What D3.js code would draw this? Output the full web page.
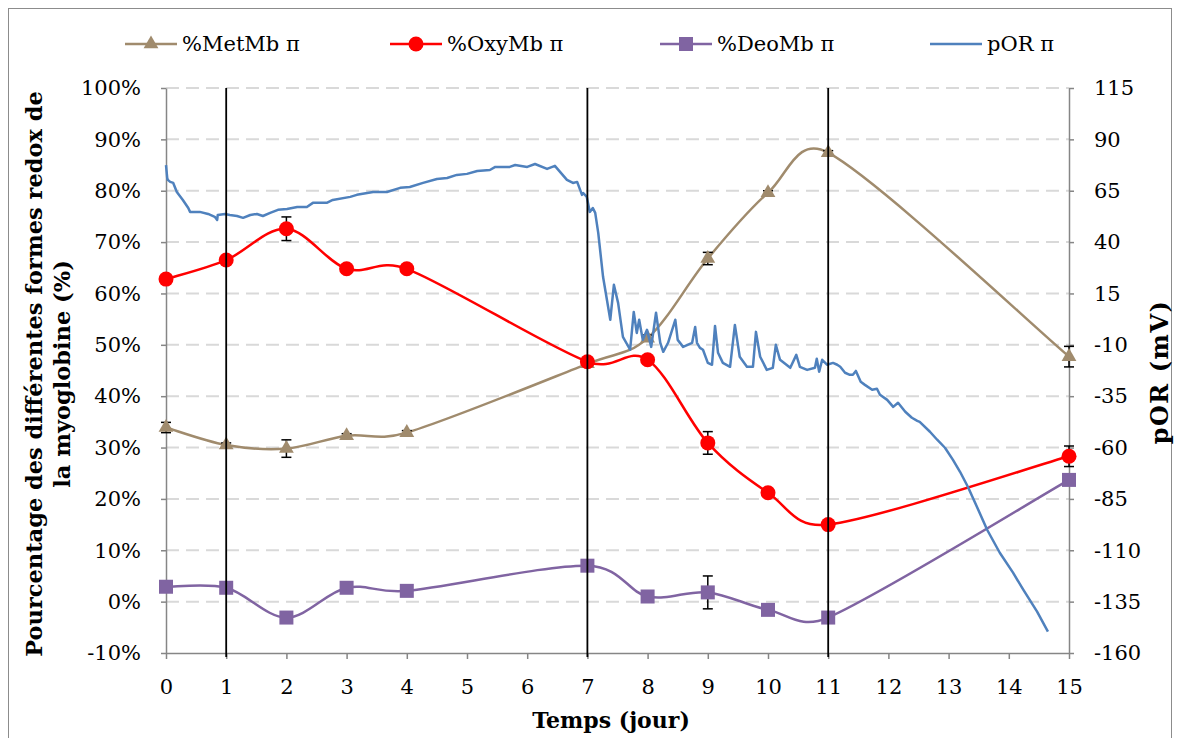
<!DOCTYPE html>
<html><head><meta charset="utf-8">
<script src="https://cdn.jsdelivr.net/npm/d3@7"></script>
<style>body{margin:0;background:#fff} svg{display:block}</style>
</head><body><svg id="c" width="1179" height="738"></svg>
<script>
const days = [0,1,2,3,4,7,8,9,10,11,15];
const metMb = [33.9,30.5,29.8,32.3,32.9,46.3,51.3,66.8,79.6,87.4,47.7];
const metMbErr = [1.0,0.4,1.7,0.4,0.4,0.4,0.6,1.2,0.4,0.4,2.0];
const oxyMb = [62.8,66.5,72.6,64.8,64.8,46.7,47.1,30.9,21.2,15.0,28.3];
const oxyMbErr = [0.4,0.4,2.3,0.4,0.4,0.8,0.4,2.2,0.6,0.4,2.0];
const deoMb = [2.9,2.7,-3.1,2.7,2.1,7.0,1.0,1.8,-1.6,-3.1,23.7];
const deoMbErr = [0.3,0.3,0.3,0.3,0.3,0.4,0.3,3.2,0.3,0.3,0.4];
const porReadings = [
[0,77.5],[0.02,71.2],[0.03,70.3],[0.07,69.3],[0.12,68.8],[0.18,64.4],[0.28,60.5],[0.37,56.6],[0.40,54.7],[0.56,54.7],
[0.70,53.7],[0.81,52.3],[0.85,50.8],[0.86,53.2],[0.98,53.7],[1.06,53.2],[1.18,52.7],[1.28,51.8],[1.40,53.2],[1.51,53.7],
[1.61,52.7],[1.73,54.2],[1.86,55.7],[2.01,56.1],[2.18,57.1],[2.34,57.1],[2.44,59.1],[2.67,59.1],[2.77,60.5],[3.06,62.0],
[3.17,63.0],[3.44,64.4],[3.67,64.4],[3.89,66.4],[4.05,66.8],[4.27,68.8],[4.50,70.7],[4.67,71.2],[4.83,72.7],[5.00,73.2],
[5.17,74.6],[5.38,75.1],[5.47,76.6],[5.71,76.6],[5.80,77.5],[6.00,76.6],[6.13,78.0],[6.33,75.6],[6.46,77.1],[6.66,70.3],
[6.76,68.8],[6.83,69.3],[6.91,63.0],[6.93,63.9],[6.99,62.0],[7.04,54.7],[7.09,56.6],[7.13,54.2],[7.18,44.5],[7.26,23.1],
[7.38,2.2],[7.44,19.2],[7.51,10.4],[7.59,-6.1],[7.71,-12.4],[7.77,6.0],[7.82,-4.2],[7.86,2.2],[7.92,-7.6],[7.99,-2.7],
[8.06,-11.0],[8.14,5.6],[8.21,-9.0],[8.26,-13.4],[8.34,-9.0],[8.46,2.2],[8.50,-7.6],[8.59,-11.0],[8.74,-9.0],[8.79,-1.3],
[8.82,-9.0],[8.87,-11.5],[8.92,-12.4],[9.00,-18.8],[9.07,-19.7],[9.12,-0.8],[9.17,-13.9],[9.25,-18.8],[9.37,-20.7],[9.45,-0.3],
[9.53,-15.8],[9.65,-20.7],[9.75,-20.7],[9.80,-3.7],[9.87,-15.8],[9.98,-22.2],[10.08,-21.2],[10.13,-10.0],[10.20,-17.3],[10.37,-21.2],
[10.47,-14.9],[10.53,-20.7],[10.65,-22.2],[10.78,-21.2],[10.81,-16.8],[10.85,-23.1],[10.90,-17.3],[10.98,-19.7],[11.08,-18.8],[11.15,-19.7],
[11.20,-20.7],[11.28,-23.6],[11.36,-24.6],[11.41,-24.6],[11.46,-22.7],[11.54,-28.0],[11.61,-29.5],[11.73,-31.9],[11.81,-31.4],[11.86,-34.3],
[11.98,-36.8],[12.08,-40.2],[12.16,-38.2],[12.28,-42.6],[12.39,-45.5],[12.48,-47.0],[12.52,-47.5],[12.69,-52.3],[12.81,-56.2],[12.94,-60.1],
[13.07,-65.9],[13.19,-71.8],[13.32,-79.1],[13.47,-88.8],[13.64,-100.0],[13.85,-111.2],[14.07,-120.9],[14.24,-129.2],[14.47,-139.9],[14.65,-149.6]
];
const xTicks = d3.range(0,16,1);
const leftTicks = d3.range(-10,101,10);
const rightTicks = d3.range(-160,116,25);
const markedDays = [1,7,11];
const legendNames = ["%MetMb \u03c0","%OxyMb \u03c0","%DeoMb \u03c0","pOR \u03c0"];

const C = {met:"#A08B6D", oxy:"#FF0000", deo:"#8064A2", por:"#4F81BD", axis:"#868686", grid:"#D9D9D9"};
const FONT = "'DejaVu Serif', serif";

const svg = d3.select("#c");
const P = {l:166, r:1069, t:88, b:653};
const x = d3.scaleLinear().domain([0,15]).range([P.l,P.r]);
const yL = d3.scaleLinear().domain([-10,100]).range([P.b,P.t]);
const yR = d3.scaleLinear().domain([-160,115]).range([P.b,P.t]);

svg.append("rect").attr("x",8.5).attr("y",8.5).attr("width",1163).attr("height",740)
  .attr("fill","#fff").attr("stroke","#8c8c8c").attr("stroke-width",1);

// grid
svg.append("g").selectAll("line").data(leftTicks.filter(d=>d>-10)).join("line")
  .attr("x1",P.l).attr("x2",P.r).attr("y1",d=>yL(d)).attr("y2",d=>yL(d))
  .attr("stroke",C.grid).attr("stroke-width",2).attr("stroke-dasharray","13,7");

// axes
function styleAxis(g){
  g.select(".domain").attr("stroke",C.axis).attr("stroke-width",1.5);
  g.selectAll(".tick line").attr("stroke",C.axis).attr("stroke-width",1.5);
  g.selectAll(".tick text").attr("fill","#000").style("font-family",FONT).style("font-size","21px");
}
svg.append("g").attr("transform",`translate(${P.l},0)`)
  .call(d3.axisLeft(yL).tickValues(leftTicks).tickFormat(d=>d+"%").tickSize(5).tickSizeOuter(0).tickPadding(20))
  .call(styleAxis);
svg.append("g").attr("transform",`translate(${P.r},0)`)
  .call(d3.axisRight(yR).tickValues(rightTicks).tickFormat(d=>d).tickSize(5).tickSizeOuter(0).tickPadding(20))
  .call(styleAxis);
svg.append("g").attr("transform",`translate(0,${P.b})`)
  .call(d3.axisBottom(x).tickValues(xTicks).tickFormat(d=>d).tickSize(6).tickSizeOuter(0).tickPadding(20))
  .call(styleAxis);

// axis titles
svg.append("text").attr("x",611).attr("y",728).attr("text-anchor","middle")
  .style("font-family",FONT).style("font-weight","bold").style("font-size","22px").text("Temps (jour)");
const yt = svg.append("text").attr("transform","translate(0,374) rotate(-90)").attr("text-anchor","middle")
  .style("font-family",FONT).style("font-weight","bold").style("font-size","22.5px");
yt.append("tspan").attr("x",0).attr("y",42).text("Pourcentage des diff\u00e9rentes formes redox de");
yt.append("tspan").attr("x",0).attr("y",70).text("la myoglobine (%)");
svg.append("text").attr("transform","translate(1168,372) rotate(-90)").attr("text-anchor","middle")
  .style("font-family",FONT).style("font-weight","bold").style("font-size","24px").style("letter-spacing","1.5px").text("pOR (mV)");

// Excel-like smoothing: Catmull-Rom handles, clamped to half the segment length
function smoothPath(pts){
  const p = d3.path();
  p.moveTo(pts[0][0], pts[0][1]);
  const handle = (a, b, d) => {
    let vx = (b[0]-a[0])/6, vy = (b[1]-a[1])/6;
    const len = Math.hypot(vx, vy), lim = 0.5*d;
    if (len > lim && len > 0) { vx *= lim/len; vy *= lim/len; }
    return [vx, vy];
  };
  for (let i = 0; i < pts.length-1; i++){
    const P0 = pts[i-1] || pts[i], P1 = pts[i], P2 = pts[i+1], P3 = pts[i+2] || pts[i+1];
    const d = Math.hypot(P2[0]-P1[0], P2[1]-P1[1]);
    const h1 = handle(P0, P2, d), h2 = handle(P1, P3, d);
    p.bezierCurveTo(P1[0]+h1[0], P1[1]+h1[1], P2[0]-h2[0], P2[1]-h2[1], P2[0], P2[1]);
  }
  return p.toString();
}

function series(vals, errs, color, marker){
  const pts = days.map((d,i)=>[x(d), yL(vals[i])]);
  svg.append("path").attr("d",smoothPath(pts)).attr("fill","none").attr("stroke",color).attr("stroke-width",2.5);
  const eg = svg.append("g").attr("stroke","#000").attr("stroke-width",1.5);
  days.forEach((d,i)=>{
    const cx = x(d), y1 = yL(vals[i]-errs[i]), y2 = yL(vals[i]+errs[i]);
    eg.append("line").attr("x1",cx).attr("x2",cx).attr("y1",y1).attr("y2",y2);
    eg.append("line").attr("x1",cx-5).attr("x2",cx+5).attr("y1",y1).attr("y2",y1);
    eg.append("line").attr("x1",cx-5).attr("x2",cx+5).attr("y1",y2).attr("y2",y2);
  });
  pts.forEach(p=>marker(svg,p[0],p[1],color));
}
function tri(g,cx,cy,c){ g.append("path").attr("d",d3.symbol(d3.symbolTriangle,95)()).attr("transform",`translate(${cx},${cy})`).attr("fill",c); }
function dot(g,cx,cy,c){ g.append("circle").attr("cx",cx).attr("cy",cy).attr("r",7.5).attr("fill",c); }
function sq(g,cx,cy,c){ g.append("rect").attr("x",cx-7).attr("y",cy-7).attr("width",14).attr("height",14).attr("fill",c); }

series(metMb, metMbErr, C.met, tri);
series(oxyMb, oxyMbErr, C.oxy, dot);
series(deoMb, deoMbErr, C.deo, sq);

svg.append("path").datum(porReadings)
  .attr("d",d3.line().x(d=>x(d[0])).y(d=>yR(d[1])))
  .attr("fill","none").attr("stroke",C.por).attr("stroke-width",2.5).attr("stroke-linejoin","round");

// vertical marker lines
svg.append("g").selectAll("line").data(markedDays).join("line")
  .attr("x1",d=>x(d)).attr("x2",d=>x(d)).attr("y1",P.t).attr("y2",P.b+4)
  .attr("stroke","#000").attr("stroke-width",1.8);

// legend
const legX = [125,390,660,930];
const legColors = [C.met,C.oxy,C.deo,C.por];
const legMarkers = [tri,dot,sq,null];
const lg = svg.append("g");
legendNames.forEach((n,i)=>{
  lg.append("line").attr("x1",legX[i]).attr("x2",legX[i]+52).attr("y1",44).attr("y2",44)
    .attr("stroke",legColors[i]).attr("stroke-width",2.5);
  if(legMarkers[i]) legMarkers[i](lg,legX[i]+26,44,legColors[i]);
  lg.append("text").attr("x",legX[i]+57).attr("y",44).attr("dy","0.35em")
    .style("font-family",FONT).style("font-size","21px").text(n);
});
</script></body></html>
